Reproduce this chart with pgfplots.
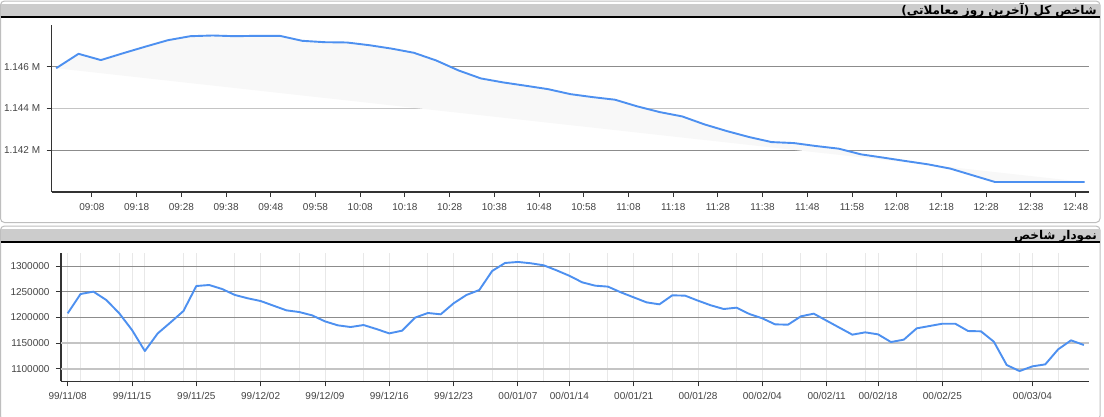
\documentclass[border=0pt]{standalone}
\usepackage{pgfplots}
\pgfplotsset{compat=1.18}
\usepackage{fontspec}
\setmainfont{Liberation Sans}
\newfontfamily\arabicfont[Script=Arabic]{DejaVu Sans}
\TeXXeTstate=1
\definecolor{lineblue}{RGB}{77,144,240}
\definecolor{headgray}{RGB}{204,204,204}
\definecolor{axisdark}{RGB}{51,51,51}
\definecolor{labgray}{RGB}{68,68,68}
\definecolor{griddark}{RGB}{140,140,140}
\definecolor{gridlight}{RGB}{196,196,196}
\definecolor{vgrid}{RGB}{232,232,232}
\definecolor{panelborder}{RGB}{190,190,190}
\definecolor{shade}{RGB}{248,248,248}
\pgfplotstableread{
t v
540 1145930
545 1146620
550 1146320
555 1146650
560 1146967
565 1147273
570 1147464
575 1147498
580 1147464
585 1147483
590 1147483
595 1147244
600 1147177
605 1147163
610 1147034
615 1146870
620 1146670
625 1146301
630 1145823
635 1145440
640 1145249
645 1145091
650 1144928
655 1144689
660 1144545
665 1144421
670 1144100
675 1143828
680 1143622
685 1143239
690 1142919
695 1142632
700 1142392
705 1142344
710 1142201
715 1142077
720 1141804
725 1141646
730 1141483
735 1141325
740 1141120
745 1140799
750 1140478
755 1140478
760 1140478
765 1140478
770 1140478
}\topdata
\pgfplotstableread{
i v
0 1208100
1 1245900
2 1250500
3 1234200
4 1208500
5 1175600
6 1134500
7 1169000
8 1190500
9 1212700
10 1261500
11 1263500
12 1255700
13 1244000
14 1237500
15 1232200
16 1223100
17 1214000
18 1210700
19 1204200
20 1192500
21 1184700
22 1181400
23 1185300
24 1177500
25 1169000
26 1174300
27 1199700
28 1208800
29 1206200
30 1227700
31 1244000
32 1253700
33 1290900
34 1306500
35 1308500
36 1305900
37 1302000
38 1292200
39 1281500
40 1268700
41 1262200
42 1260300
43 1249200
44 1239400
45 1229600
46 1225700
47 1243300
48 1242700
49 1232900
50 1223800
51 1216600
52 1219200
53 1206800
54 1198400
55 1186600
56 1186000
57 1202300
58 1207500
59 1193800
60 1180100
61 1166500
62 1171000
63 1167100
64 1152100
65 1156700
66 1178800
67 1183400
68 1187900
69 1187900
70 1173600
71 1173000
72 1152800
73 1107200
74 1095400
75 1104600
76 1108500
77 1137800
78 1155400
79 1146300
}\bottomdata
\pgfplotsset{
  mystyle/.style={
    scale only axis,
    axis x line*=bottom, axis y line*=left,
    axis line style={draw=axisdark, line width=1.1pt},
    tick align=outside, major tick length=5pt,
    tick style={draw=axisdark, line width=0.9pt},
    ticklabel style={font=\fontsize{10pt}{12pt}\selectfont, text=labgray},
    xticklabel style={yshift=-2.5pt},
    yticklabel style={xshift=-3pt},
    scaled y ticks=false, scaled x ticks=false,
    ymajorgrids,
    y grid style={draw=griddark, line width=0.9pt},
  }
}
\begin{document}
\begin{tikzpicture}
\path[use as bounding box] (0pt,0pt) rectangle (1104pt,-416pt);
% panels
\draw[rounded corners=4pt, draw=panelborder, fill=white, line width=1pt] (0.5pt,-1pt) rectangle (1100pt,-222.5pt);
\fill[headgray] (1pt,-4pt) rectangle (1099.5pt,-16.8pt);
\draw[black, line width=1.5pt] (0.5pt,-17.2pt) -- (1099.5pt,-17.2pt);
\node[anchor=base east, inner sep=0pt, font=\fontsize{12pt}{14pt}\selectfont] at (1097pt,-14.5pt) {\arabicfont\bfseries\beginR شاخص کل (آخرین روز معاملاتی)\endR};
\draw[rounded corners=4pt, draw=panelborder, fill=white, line width=1pt] (0.5pt,-226pt) rectangle (1100pt,-420pt);
\fill[headgray] (1pt,-229pt) rectangle (1099.5pt,-241.5pt);
\draw[black, line width=1.5pt] (0.5pt,-242pt) -- (1099.5pt,-242pt);
\node[anchor=base east, inner sep=0pt, font=\fontsize{12pt}{14pt}\selectfont] at (1097pt,-239pt) {\arabicfont\bfseries\beginR نمودار شاخص\endR};

% top chart
\begin{axis}[mystyle,
  at={(51.7pt,-192pt)}, anchor=south west,
  width=1037.3pt, height=167pt,
  xmin=539, xmax=771, ymin=1140000, ymax=1148000,
  xtick={548,558,568,578,588,598,608,618,628,638,648,658,668,678,688,698,708,718,728,738,748,758,768},
  xticklabels={09:08,09:18,09:28,09:38,09:48,09:58,10:08,10:18,10:28,10:38,10:48,10:58,11:08,11:18,11:28,11:38,11:48,11:58,12:08,12:18,12:28,12:38,12:48},
  ytick={1142000,1146000}, yticklabels={1.142 M,1.146 M},
  extra y ticks={1144000}, extra y tick labels={1.144 M},
  extra y tick style={y grid style={draw=gridlight, line width=1.6pt}},
]
\addplot[fill=shade, draw=none, forget plot] table[x=t, y=v] {\topdata} -- cycle;
\addplot[lineblue, line width=1.9pt, line join=round] table[x=t, y=v] {\topdata};
\end{axis}

% bottom chart
\begin{axis}[mystyle,
  at={(61pt,-381.3pt)}, anchor=south west,
  width=1028pt, height=128.6pt,
  xmin=-0.52, xmax=79.4, ymin=1075390, ymax=1326560,
  xtick={0,5,10,15,20,25,30,35,39,44,49,54,59,63,68,75},
  xticklabels={99/11/08,99/11/15,99/11/25,99/12/02,99/12/09,99/12/16,99/12/23,00/01/07,00/01/14,00/01/21,00/01/28,00/02/04,00/02/11,00/02/18,00/02/25,00/03/04},
  minor xtick={1,4,6,9,13,18,23,28,33,37,42,47,52,57,62,66,71,74,77},
  minor tick length=0pt,
  xmajorgrids, xminorgrids,
  x grid style={draw=vgrid, line width=0.9pt},
  minor x grid style={draw=vgrid, line width=0.9pt},
  ytick={1200000,1250000,1300000}, yticklabels={1200000,1250000,1300000},
  extra y ticks={1100000,1150000}, extra y tick labels={1100000,1150000},
  extra y tick style={y grid style={draw=gridlight, line width=1.6pt}},
]
\addplot[lineblue, line width=1.9pt, line join=round] table[x=i, y=v] {\bottomdata};
\end{axis}
\end{tikzpicture}
\end{document}
